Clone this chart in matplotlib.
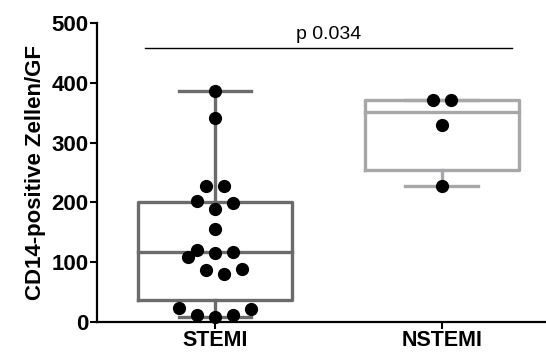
import numpy as np
from matplotlib import pyplot as plt

plt.rcParams['font.family'] = ['Liberation Sans', 'DejaVu Sans']

groups = ['STEMI', 'NSTEMI']
stemi = [387, 341, 227, 227, 202, 199, 189, 156, 121, 116, 117, 109,
         87, 81, 88, 23, 21, 11, 9, 11]
nstemi = [372, 372, 330, 228]
# x offsets of the dots inside each column (scatter layout)
stemi_jit = [0, 0, -1, 1, -2, 2, 0, 0, -2, 0, 2, -3,
             -1, 1, 3, -4, 4, -2, 0, 2]
nstemi_jit = [-1, 1, 0, 0]
colors = ['#6b6b6b', '#a7a7a9']
p_text = 'p 0.034'


def quartiles(vals):
    # Prism style quartiles, (n+1) rank method
    v = np.sort(vals)
    n = len(v)

    def q(r):
        i = int(np.floor(r)) - 1
        f = r - np.floor(r)
        if i + 1 >= n:
            return v[-1]
        return v[i] + f * (v[i + 1] - v[i])
    return q((n + 1) / 4), np.median(v), q(3 * (n + 1) / 4)


fig = plt.figure(figsize=(5.46, 3.56), dpi=100)
ax = fig.add_axes([97 / 546, 34 / 356, 449 / 546, 299 / 356])

for i, (vals, jit, c) in enumerate(zip([stemi, nstemi], [stemi_jit, nstemi_jit], colors)):
    x = i + 1
    q1, med, q3 = quartiles(vals)
    lo, hi = min(vals), max(vals)
    hw = 0.34
    lw = 2.4
    ax.plot([x - hw, x + hw, x + hw, x - hw, x - hw], [q1, q1, q3, q3, q1],
            color=c, lw=lw, solid_joinstyle='round', zorder=2)
    ax.plot([x - hw, x + hw], [med, med], color=c, lw=lw, zorder=2)
    ax.plot([x, x], [q3, hi], color=c, lw=lw, zorder=2)
    ax.plot([x, x], [lo, q1], color=c, lw=lw, zorder=2)
    ax.plot([x - 0.16, x + 0.16], [hi, hi], color=c, lw=lw, zorder=2)
    ax.plot([x - 0.16, x + 0.16], [lo, lo], color=c, lw=lw, zorder=2)
    xs = x + np.array(jit) * 0.04
    ax.plot(xs, vals, 'o', color='black', ms=8.5, zorder=3, clip_on=False)

ax.plot([0.69, 2.31], [459, 459], color='black', lw=1.0)
ax.text(1.5, 466, p_text, ha='center', va='bottom', fontsize=14)

ax.set_xlim(0.48, 2.46)
ax.set_ylim(0, 500)
ax.set_yticks([0, 100, 200, 300, 400, 500])
ax.set_xticks([1, 2])
ax.set_xticklabels(groups)
ax.set_ylabel('CD14-positive Zellen/GF', fontsize=16, fontweight='bold', labelpad=4)
for lab in ax.get_xticklabels():
    lab.set_fontweight('bold')
    lab.set_fontsize(15.5)
for lab in ax.get_yticklabels():
    lab.set_fontweight('bold')
    lab.set_fontsize(16)
ax.tick_params(width=1.5, length=5, direction='out', pad=1)
for s in ['top', 'right']:
    ax.spines[s].set_visible(False)
for s in ['left', 'bottom']:
    ax.spines[s].set_linewidth(1.6)

fig.savefig('out.png', dpi=100)
